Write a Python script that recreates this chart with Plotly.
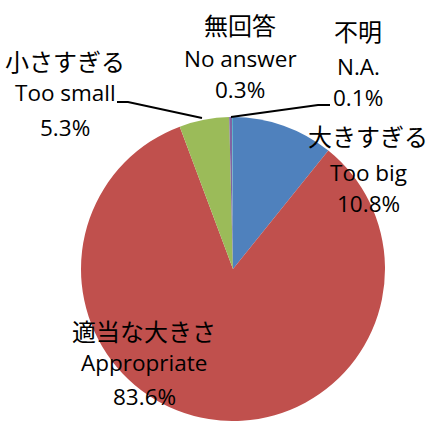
import plotly.graph_objects as go

labels_en = ["Too big", "Appropriate", "Too small", "No answer", "N.A."]
labels_ja = ["大きすぎる", "適当な大きさ", "小さすぎる", "無回答", "不明"]
values = [10.8, 83.6, 5.3, 0.3, 0.1]
colors = ["#4F81BD", "#C0504D", "#9BBB59", "#8064A2", "#4BACC6"]

W, H = 430, 421
cx, cy, r = 233, 269, 152

fig = go.Figure(go.Pie(
    labels=labels_en, values=values, sort=False, direction="clockwise", rotation=0,
    marker=dict(colors=colors, line=dict(width=0)), textinfo="none", hoverinfo="label+percent",
    domain=dict(x=[(cx - r) / W, (cx + r) / W], y=[(H - cy - r) / H, (H - cy + r) / H]),
    showlegend=False,
))

# label anchor positions (pixels: center x, y of the three lines)
label_pos = {
    "Too big": (368, [136, 172, 203]),
    "Appropriate": (144, [330, 362, 396]),
    "Too small": (65, [60, 93, 127]),
    "No answer": (240, [25, 58, 89]),
    "N.A.": (358, [30, 67, 97]),
}
fam_ja = "Noto Sans CJK JP"
fam_en = "Open Sans, Noto Sans CJK JP"
ann = []
for en, ja, v in zip(labels_en, labels_ja, values):
    x, ys = label_pos[en]
    texts = [(ja, fam_ja, 24), (en, fam_en, 22.5), (f"{v:.1f}%", fam_en, 22.5)]
    for (t, fam, fs), y in zip(texts, ys):
        ann.append(dict(x=x / W, y=1 - y / H, xref="paper", yref="paper", text=t, showarrow=False,
                        xanchor="center", yanchor="middle", font=dict(family=fam, size=fs, color="black")))

shapes = [
    dict(type="path", xref="paper", yref="paper",
         path=f"M {117/W} {1-102/H} L {128/W} {1-102/H} L {202/W} {1-118/H}",
         line=dict(color="black", width=1.8)),
    dict(type="path", xref="paper", yref="paper",
         path=f"M {330/W} {1-105/H} L {318/W} {1-105/H} L {231/W} {1-117/H}",
         line=dict(color="black", width=1.8)),
]

fig.update_layout(width=W, height=H, margin=dict(l=0, r=0, t=0, b=0),
                  paper_bgcolor="white", plot_bgcolor="white",
                  annotations=ann, shapes=shapes)
fig.write_html("out.html", config={"displayModeBar": False},
               post_script="document.body.style.margin='0';")
